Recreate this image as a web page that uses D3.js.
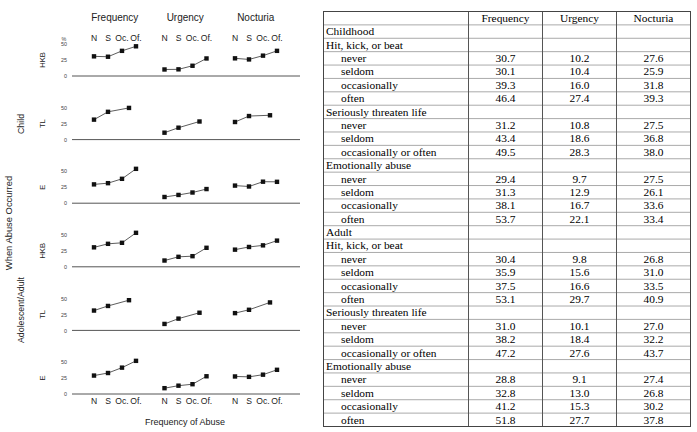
<!DOCTYPE html>
<html><head><meta charset="utf-8">
<script src="https://cdn.jsdelivr.net/npm/d3@7"></script>
<style>body{margin:0;background:#fff}svg{display:block}</style>
</head><body>
<script>
// ---- data ----
const measures = ["Frequency", "Urgency", "Nocturia"];
const tickCats = ["N", "S", "Oc.", "Of."];
const periods = ["Childhood", "Adult"];
const periodShort = ["Child", "Adolescent/Adult"];
const abuseTypes = ["Hit, kick, or beat", "Seriously threaten life", "Emotionally abuse"];
const abuseShort = ["HKB", "TL", "E"];
const levels4 = ["never", "seldom", "occasionally", "often"];
const levels3 = ["never", "seldom", "occasionally or often"];
const yTicks = [0, 25, 50];
// rows: [Frequency, Urgency, Nocturia]
const childHKB = [[30.7, 10.2, 27.6], [30.1, 10.4, 25.9], [39.3, 16.0, 31.8], [46.4, 27.4, 39.3]];
const childTL  = [[31.2, 10.8, 27.5], [43.4, 18.6, 36.8], [49.5, 28.3, 38.0]];
const childE   = [[29.4, 9.7, 27.5], [31.3, 12.9, 26.1], [38.1, 16.7, 33.6], [53.7, 22.1, 33.4]];
const adultHKB = [[30.4, 9.8, 26.8], [35.9, 15.6, 31.0], [37.5, 16.6, 33.5], [53.1, 29.7, 40.9]];
const adultTL  = [[31.0, 10.1, 27.0], [38.2, 18.4, 32.2], [47.2, 27.6, 43.7]];
const adultE   = [[28.8, 9.1, 27.4], [32.8, 13.0, 26.8], [41.2, 15.3, 30.2], [51.8, 27.7, 37.8]];

const panels = [
  {period: 0, type: 0, rows: childHKB, levels: levels4},
  {period: 0, type: 1, rows: childTL, levels: levels3},
  {period: 0, type: 2, rows: childE, levels: levels4},
  {period: 1, type: 0, rows: adultHKB, levels: levels4},
  {period: 1, type: 1, rows: adultTL, levels: levels3},
  {period: 1, type: 2, rows: adultE, levels: levels4}
];

const W = 697, H = 432;
const svg = d3.select("body").append("svg").attr("width", W).attr("height", H);
svg.append("rect").attr("width", W).attr("height", H).attr("fill", "#fff");

const sans = "Liberation Sans, Arial, sans-serif";
const serif = "Liberation Serif, Times New Roman, serif";

// ---- small multiples ----
const groupX = d3.scaleBand().domain(measures).range([79.5, 291]);
const innerX = d3.scaleLinear().domain([0, 3]).range([14.5, 56.5]);
const panelBase = d3.scaleLinear().domain([0, 5]).range([76, 394]);
const yRange = 32; // px for 0..50
const axisX0 = 72, axisX1 = 300;

// level index -> position index (merged "occasionally or often" sits between Oc. and Of.)
function levelPos(i, n) { return n === 4 ? i : (i < 2 ? i : 2.5); }

const chart = svg.append("g");

// column titles
chart.selectAll("text.mtitle").data(measures).join("text")
  .attr("x", d => groupX(d) + groupX.bandwidth() / 2).attr("y", 20.5)
  .attr("text-anchor", "middle").attr("font-family", sans).attr("font-size", 10)
  .attr("fill", "#222").text(d => d);

function catLabels(y) {
  measures.forEach(m => {
    chart.selectAll(null).data(tickCats).join("text")
      .attr("x", (d, i) => groupX(m) + innerX(i)).attr("y", y)
      .attr("text-anchor", "middle").attr("font-family", sans).attr("font-size", 8.6)
      .attr("fill", "#222").text(d => d);
  });
}
catLabels(41);
catLabels(403.5);

panels.forEach((p, pi) => {
  const base = panelBase(pi);
  const y = d3.scaleLinear().domain([0, 50]).range([base, base - yRange]);
  const g = chart.append("g");
  // baseline
  g.append("line").attr("x1", axisX0).attr("x2", axisX1).attr("y1", base).attr("y2", base)
    .attr("stroke", "#555").attr("stroke-width", 1);
  // y ticks
  const ax = g.append("g").attr("transform", `translate(67,0)`)
    .call(d3.axisLeft(y).tickValues(yTicks).tickSize(0).tickPadding(0));
  ax.select(".domain").remove();
  ax.selectAll("text").attr("font-family", sans).attr("font-size", 5.4).attr("fill", "#444");
  if (pi === 0) {
    g.append("text").attr("x", 64).attr("y", base - yRange - 3).attr("text-anchor", "middle")
      .attr("font-family", sans).attr("font-size", 5.4).attr("fill", "#444").text("%");
  }
  // panel label
  g.append("text").attr("transform", `translate(45,${base - 16}) rotate(-90)`)
    .attr("text-anchor", "middle").attr("font-family", sans).attr("font-size", 7.6)
    .attr("fill", "#222").text(abuseShort[p.type]);
  // series
  measures.forEach((m, mi) => {
    const pts = p.rows.map((r, i) => [groupX(m) + innerX(levelPos(i, p.rows.length)), y(r[mi])]);
    g.append("path").attr("d", d3.line()(pts)).attr("fill", "none")
      .attr("stroke", "#333").attr("stroke-width", 0.8);
    g.selectAll(null).data(pts).join("rect")
      .attr("x", d => d[0] - 2.2).attr("y", d => d[1] - 2.2)
      .attr("width", 4.4).attr("height", 4.4).attr("fill", "#111");
  });
});

// side labels
chart.append("text").attr("transform", "translate(23.5,124) rotate(-90)").attr("text-anchor", "middle")
  .attr("font-family", sans).attr("font-size", 8.8).attr("fill", "#222").text(periodShort[0]);
chart.append("text").attr("transform", "translate(23.5,310) rotate(-90)").attr("text-anchor", "middle")
  .attr("font-family", sans).attr("font-size", 8.8).attr("fill", "#222").text(periodShort[1]);
chart.append("text").attr("transform", "translate(12,223) rotate(-90)").attr("text-anchor", "middle")
  .attr("font-family", sans).attr("font-size", 9.4).attr("fill", "#222").text("When Abuse Occurred");
chart.append("text").attr("x", 185).attr("y", 424.5).attr("text-anchor", "middle")
  .attr("font-family", sans).attr("font-size", 9).attr("fill", "#222").text("Frequency of Abuse");

// ---- table ----
const tRows = [{kind: "header"}];
periods.forEach((per, pi) => {
  tRows.push({kind: "group", label: per});
  abuseTypes.forEach((t, ti) => {
    tRows.push({kind: "group", label: t});
    const p = panels[pi * 3 + ti];
    p.rows.forEach((r, li) => tRows.push({kind: "data", label: p.levels[li], vals: r}));
  });
});

const tx0 = 323.5, tx1 = 690.5;
const colEdges = [tx0, 468.5, 542.5, 616.5, tx1];
const rowY = d3.scaleLinear().domain([0, tRows.length]).range([11.5, 426.5]);
const colMid = i => (colEdges[i + 1] + colEdges[i + 2]) / 2;

const tg = svg.append("g");
// horizontal lines
tg.selectAll("line.h").data(d3.range(1, tRows.length)).join("line")
  .attr("x1", tx0).attr("x2", tx1).attr("y1", d => rowY(d)).attr("y2", d => rowY(d))
  .attr("stroke", "#aaa").attr("stroke-width", 1);
// vertical lines
tg.selectAll("line.v").data(colEdges.slice(1, 4)).join("line")
  .attr("x1", d => d).attr("x2", d => d).attr("y1", rowY(0)).attr("y2", rowY(tRows.length))
  .attr("stroke", "#555").attr("stroke-width", 1);
tg.append("rect").attr("x", tx0).attr("y", rowY(0)).attr("width", tx1 - tx0)
  .attr("height", rowY(tRows.length) - rowY(0)).attr("fill", "none").attr("stroke", "#444");

const fs = 11.4;
tRows.forEach((r, i) => {
  const yb = rowY(i) + 10.4;
  if (r.kind === "header") {
    measures.forEach((m, mi) => tg.append("text").attr("x", colMid(mi)).attr("y", yb)
      .attr("text-anchor", "middle").attr("font-family", serif).attr("font-size", fs).text(m));
  } else if (r.kind === "group") {
    tg.append("text").attr("x", 326).attr("y", yb).attr("font-family", serif)
      .attr("font-size", fs).text(r.label);
  } else {
    tg.append("text").attr("x", 341).attr("y", yb).attr("font-family", serif)
      .attr("font-size", fs).text(r.label);
    r.vals.forEach((v, vi) => tg.append("text").attr("x", colMid(vi)).attr("y", yb)
      .attr("text-anchor", "middle").attr("font-family", serif).attr("font-size", fs)
      .text(d3.format(".1f")(v)));
  }
});
</script>
</body></html>
